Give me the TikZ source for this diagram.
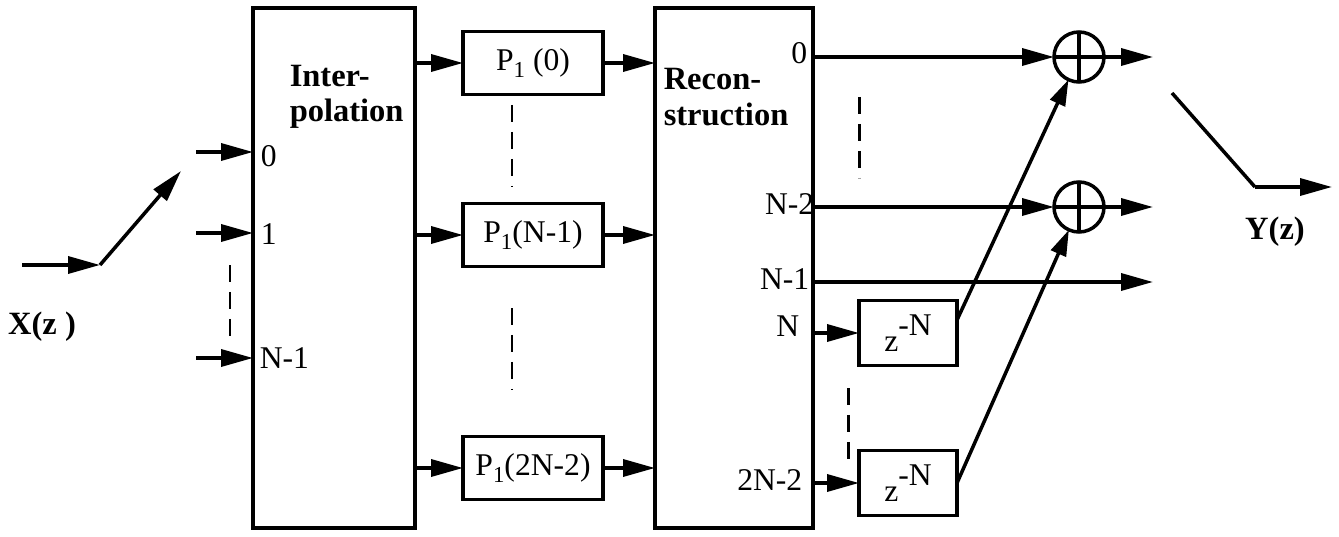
\documentclass[tikz,border=0pt]{standalone}
\usepackage{fontspec}
\setmainfont{Liberation Serif}
\usetikzlibrary{arrows.meta,calc}
\newcommand\lowsub[1]{\raisebox{-0.5ex}{\fontsize{13}{13}\selectfont #1}}
\newcommand\zpow{z\raisebox{0.5em}{-N}}
\begin{document}
\begin{tikzpicture}[x=0.02cm,y=-0.02cm,
  line width=2pt,
  arr/.style={-{Triangle[length=0.64cm,width=0.34cm]}},
  darr/.style={-{Triangle[length=0.52cm,width=0.32cm]}},
  blk/.style={draw,line width=2pt,inner sep=0pt,outer sep=0pt},
  pbox/.style={blk,minimum width=2.8cm,minimum height=1.26cm,font=\fontsize{18}{20}\selectfont},
  zbox/.style={blk,minimum width=1.96cm,minimum height=1.3cm,font=\fontsize{18}{20}\selectfont},
  adder/.style={draw,circle,line width=2pt,minimum size=1cm,inner sep=0pt,outer sep=0pt},
  lbl/.style={inner sep=0pt,font=\fontsize{18}{20}\selectfont},
  blbl/.style={inner sep=0pt,font=\fontsize{18.5}{20}\selectfont\bfseries,align=left},
  dashline/.style={line width=1.7pt,dash pattern=on 0.34cm off 0.2cm}
]
\useasboundingbox (0,0) rectangle (1339,537);
\fill[white] (0,0) rectangle (1339,537);

% main blocks
\node[blk,minimum width=3.24cm,minimum height=10.4cm] (interp) at (334,268) {};
\node[blk,minimum width=3.16cm,minimum height=10.4cm] (recon) at (734,268) {};
\node[blbl,anchor=west] (tinterp) at (288,97) {Inter-\\polation};
\node[blbl,anchor=west] (trecon) at (662,97) {Recon-\\struction};

% P boxes
\node[pbox] (p0) at (533,63) {P\lowsub{1}\ (0)};
\node[pbox] (p1) at (533,235) {P\lowsub{1}(N-1)};
\node[pbox] (p2) at (533,468) {P\lowsub{1}(2N-2)};

% delay boxes
\node[zbox] (z1) at (908,333) {\zpow};
\node[zbox] (z2) at (908,483) {\zpow};

% adders
\node[adder] (add1) at (1079,57) {};
\node[adder] (add2) at (1079,207) {};
\draw (add1.north) -- (add1.south) (add1.west) -- (add1.east);
\draw (add2.north) -- (add2.south) (add2.west) -- (add2.east);

% input switch
\coordinate (xin) at (22,265);
\coordinate (sw) at (100,265);
\coordinate (swe) at (181,171);
\draw[arr] (xin) -- (sw);
\draw[arr] (sw) -- (swe);
\node[blbl] (xz) at (42,327) {X(z )};

% inputs to interpolation
\coordinate (i0) at (196,152);
\coordinate (i1) at (196,233);
\coordinate (i2) at (196,358);
\draw[arr] (i0) -- (i0 -| interp.west);
\draw[arr] (i1) -- (i1 -| interp.west);
\draw[arr] (i2) -- (i2 -| interp.west);
\node[lbl,anchor=west] (l0) at (259,156) {0};
\node[lbl,anchor=west] (l1) at (259,234) {1};
\node[lbl,anchor=west] (l2) at (258,358) {N-1};
\draw[dashline] (230,265) -- (230,342);

% interpolation -> P -> reconstruction
\foreach \p in {p0,p1,p2}{
  \draw[arr] (\p -| interp.east) -- (\p.west);
  \draw[arr] (\p.east) -- (\p -| recon.west);
}
\draw[dashline] (512,105) -- (512,187);
\draw[dashline] (512,308) -- (512,390);

% reconstruction outputs
\node[lbl,anchor=east] (r0) at (809,53) {0};
\node[lbl,anchor=east] (r1) at (816,204) {N-2};
\node[lbl,anchor=east] (r2) at (811,279) {N-1};
\node[lbl,anchor=east] (r3) at (801,326) {N};
\node[lbl,anchor=east] (r4) at (804,480) {2N-2};

\coordinate (o1) at (1153,57);
\coordinate (o2) at (1153,207);
\coordinate (o3) at (1153,282);
\draw[arr] (add1 -| recon.east) -- (add1.west);
\draw[arr] (add2 -| recon.east) -- (add2.west);
\draw[arr] (add1.east) -- (o1);
\draw[arr] (add2.east) -- (o2);
\draw[arr] (o3 -| recon.east) -- (o3);
\draw[arr] (z1 -| recon.east) -- (z1.west);
\draw[arr] (z2 -| recon.east) -- (z2.west);
\draw[dashline] (859,97) -- (859,178);
\draw[dashline] (848,388) -- (848,467);

% delayed paths to adders
\coordinate (z1o) at ([yshift=0.26cm]z1.east);
\draw[darr] (z1o) -- (add1);
\draw[darr] (z2.east) -- (add2);

% output switch
\coordinate (ys) at (1172,93);
\coordinate (yk) at (1255,187);
\coordinate (yo) at (1332,187);
\draw (ys) -- (yk);
\draw[arr] (yk) -- (yo);
\node[blbl] (yz) at (1275,232) {Y(z)};
\end{tikzpicture}
\end{document}
